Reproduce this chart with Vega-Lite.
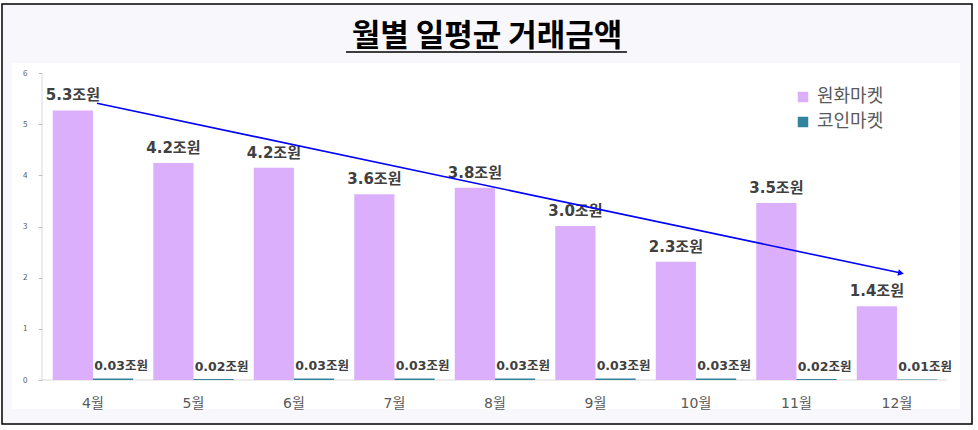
{
  "$schema": "https://vega.github.io/schema/vega-lite/v6.json",
  "width": 970,
  "height": 420,
  "autosize": {"type": "none"},
  "padding": {"left": 2, "top": 4, "right": 6, "bottom": 6},
  "background": "white",
  "config": {
    "view": {"fill": "#f8f7fc", "stroke": "#000000", "strokeWidth": 1.5},
    "font": "Noto Sans CJK KR"
  },
  "title": {
    "text": "월별 일평균 거래금액",
    "anchor": "middle",
    "fontSize": 31,
    "fontWeight": "bold",
    "color": "#000000",
    "font": "Noto Sans CJK KR",
    "offset": -49
  },
  "datasets": {
    "bars": [
      {"month": "4월", "market": "원화마켓", "value": 5.27, "label": "5.3조원"},
      {"month": "4월", "market": "코인마켓", "value": 0.03, "label": "0.03조원"},
      {"month": "5월", "market": "원화마켓", "value": 4.24, "label": "4.2조원"},
      {"month": "5월", "market": "코인마켓", "value": 0.02, "label": "0.02조원"},
      {"month": "6월", "market": "원화마켓", "value": 4.15, "label": "4.2조원"},
      {"month": "6월", "market": "코인마켓", "value": 0.03, "label": "0.03조원"},
      {"month": "7월", "market": "원화마켓", "value": 3.63, "label": "3.6조원"},
      {"month": "7월", "market": "코인마켓", "value": 0.03, "label": "0.03조원"},
      {"month": "8월", "market": "원화마켓", "value": 3.76, "label": "3.8조원"},
      {"month": "8월", "market": "코인마켓", "value": 0.03, "label": "0.03조원"},
      {"month": "9월", "market": "원화마켓", "value": 3.01, "label": "3.0조원"},
      {"month": "9월", "market": "코인마켓", "value": 0.03, "label": "0.03조원"},
      {"month": "10월", "market": "원화마켓", "value": 2.31, "label": "2.3조원"},
      {"month": "10월", "market": "코인마켓", "value": 0.03, "label": "0.03조원"},
      {"month": "11월", "market": "원화마켓", "value": 3.46, "label": "3.5조원"},
      {"month": "11월", "market": "코인마켓", "value": 0.02, "label": "0.02조원"},
      {"month": "12월", "market": "원화마켓", "value": 1.44, "label": "1.4조원"},
      {"month": "12월", "market": "코인마켓", "value": 0.01, "label": "0.01조원"}
    ],
    "trend": [
      {"month": "4월", "value": 5.41},
      {"month": "12월", "value": 2.09}
    ],
    "one": [{"id": 1}]
  },
  "layer": [
    {
      "data": {"name": "one"},
      "mark": {"type": "rect", "fill": "white"},
      "encoding": {
        "x": {"datum": "4월", "type": "nominal", "bandPosition": -0.507,
              "scale": {"domain": ["4월","5월","6월","7월","8월","9월","10월","11월","12월"], "paddingInner": 0.2, "paddingOuter": 0.426, "align": 0.593}},
        "x2": {"datum": "12월", "bandPosition": 1.284},
        "y": {"datum": 6.195, "type": "quantitative", "scale": {"domain": [-0.86, 7.35], "nice": false, "zero": false}},
        "y2": {"datum": -0.567}
      }
    },
    {
      "data": {"name": "one"},
      "mark": {"type": "rule", "color": "#000000", "strokeWidth": 1.5},
      "encoding": {
        "x": {"datum": "6월", "type": "nominal", "bandPosition": 1.147,
              "scale": {"domain": ["4월","5월","6월","7월","8월","9월","10월","11월","12월"], "paddingInner": 0.2, "paddingOuter": 0.426, "align": 0.593}},
        "x2": {"datum": "9월", "bandPosition": 0.892},
        "y": {"datum": 6.41, "type": "quantitative", "scale": {"domain": [-0.86, 7.35], "nice": false, "zero": false}}
      }
    },
    {
      "data": {"name": "one"},
      "mark": {"type": "rule", "color": "#d9d9d9", "strokeWidth": 1},
      "encoding": {
        "x": {"datum": "4월", "type": "nominal", "bandPosition": -0.134,
              "scale": {"domain": ["4월","5월","6월","7월","8월","9월","10월","11월","12월"], "paddingInner": 0.2, "paddingOuter": 0.426, "align": 0.593}},
        "x2": {"datum": "12월", "bandPosition": 1.122},
        "y": {"datum": 0, "type": "quantitative", "scale": {"domain": [-0.86, 7.35], "nice": false, "zero": false}}
      }
    },
    {
      "data": {"name": "one"},
      "mark": {"type": "rule", "color": "#d9d9d9", "strokeWidth": 1},
      "encoding": {
        "x": {"datum": "4월", "type": "nominal", "bandPosition": -0.134,
              "scale": {"domain": ["4월","5월","6월","7월","8월","9월","10월","11월","12월"], "paddingInner": 0.2, "paddingOuter": 0.426, "align": 0.593}},
        "y": {"datum": 0, "type": "quantitative", "scale": {"domain": [-0.86, 7.35], "nice": false, "zero": false}},
        "y2": {"datum": 6}
      }
    },
    {
      "data": {"name": "bars"},
      "mark": {"type": "bar"},
      "encoding": {
        "x": {"field": "month", "type": "nominal",
              "scale": {"domain": ["4월","5월","6월","7월","8월","9월","10월","11월","12월"], "paddingInner": 0.2, "paddingOuter": 0.426, "align": 0.593},
              "axis": {"title": null, "orient": "bottom", "offset": -44, "domain": false, "ticks": false, "bandPosition": 0.5, "labelAlign": "center", "labelPadding": 23, "labelFontSize": 14, "labelColor": "#595959", "labelAngle": 0, "zindex": 1, "labelFont": "DejaVu Sans, Noto Sans CJK KR"}},
        "xOffset": {"field": "market", "type": "nominal", "scale": {"domain": ["원화마켓", "코인마켓"], "paddingInner": 0, "paddingOuter": 0}},
        "y": {"field": "value", "type": "quantitative",
              "scale": {"domain": [-0.86, 7.35], "nice": false, "zero": false},
              "axis": {"title": null, "values": [0,1,2,3,4,5,6], "offset": -40, "domain": false, "grid": false, "tickSize": 4, "tickColor": "#bfbfbf", "labelColor": "#595959", "labelFontSize": 8, "labelPadding": 11, "zindex": 1}},
        "color": {"field": "market", "type": "nominal",
                  "scale": {"domain": ["원화마켓", "코인마켓"], "range": ["#dcaffc", "#31849b"]},
                  "legend": {"title": null, "orient": "none", "legendX": 792, "legendY": 84, "symbolType": "square", "symbolSize": 110, "symbolStrokeWidth": 0, "labelFontSize": 18, "labelColor": "#595959", "rowPadding": 7, "labelOffset": 5, "labelFont": "Noto Sans CJK KR"}}
      }
    },
    {
      "data": {"name": "bars"},
      "transform": [{"filter": "datum.market === '원화마켓'"}],
      "mark": {"type": "text", "fontSize": 15, "fontWeight": "bold", "font": "DejaVu Sans, Noto Sans CJK KR", "color": "#404040", "baseline": "alphabetic", "dy": -10},
      "encoding": {
        "x": {"field": "month", "type": "nominal", "scale": {"domain": ["4월","5월","6월","7월","8월","9월","10월","11월","12월"], "paddingInner": 0.2, "paddingOuter": 0.426, "align": 0.593}},
        "xOffset": {"field": "market", "type": "nominal", "scale": {"domain": ["원화마켓", "코인마켓"], "paddingInner": 0, "paddingOuter": 0}},
        "y": {"field": "value", "type": "quantitative", "scale": {"domain": [-0.86, 7.35], "nice": false, "zero": false}},
        "text": {"field": "label"}
      }
    },
    {
      "data": {"name": "bars"},
      "transform": [{"filter": "datum.market === '코인마켓'"}],
      "mark": {"type": "text", "fontSize": 12.5, "fontWeight": "bold", "font": "DejaVu Sans, Noto Sans CJK KR", "color": "#404040", "baseline": "alphabetic", "dy": -8, "dx": 8},
      "encoding": {
        "x": {"field": "month", "type": "nominal", "scale": {"domain": ["4월","5월","6월","7월","8월","9월","10월","11월","12월"], "paddingInner": 0.2, "paddingOuter": 0.426, "align": 0.593}},
        "xOffset": {"field": "market", "type": "nominal", "scale": {"domain": ["원화마켓", "코인마켓"], "paddingInner": 0, "paddingOuter": 0}},
        "y": {"field": "value", "type": "quantitative", "scale": {"domain": [-0.86, 7.35], "nice": false, "zero": false}},
        "text": {"field": "label"}
      }
    },
    {
      "data": {"name": "trend"},
      "mark": {"type": "line", "color": "#0000ff", "strokeWidth": 1.6},
      "encoding": {
        "x": {"field": "month", "type": "nominal", "bandPosition": 0.55, "scale": {"domain": ["4월","5월","6월","7월","8월","9월","10월","11월","12월"], "paddingInner": 0.2, "paddingOuter": 0.426, "align": 0.593}},
        "y": {"field": "value", "type": "quantitative", "scale": {"domain": [-0.86, 7.35], "nice": false, "zero": false}}
      }
    },
    {
      "data": {"name": "trend"},
      "transform": [{"filter": "datum.month === '12월'"}],
      "mark": {"type": "point", "shape": "triangle-right", "filled": true, "color": "#0000ff", "opacity": 1, "size": 45, "angle": 12},
      "encoding": {
        "x": {"field": "month", "type": "nominal", "bandPosition": 0.55, "scale": {"domain": ["4월","5월","6월","7월","8월","9월","10월","11월","12월"], "paddingInner": 0.2, "paddingOuter": 0.426, "align": 0.593}},
        "y": {"field": "value", "type": "quantitative", "scale": {"domain": [-0.86, 7.35], "nice": false, "zero": false}}
      }
    }
  ]
}
